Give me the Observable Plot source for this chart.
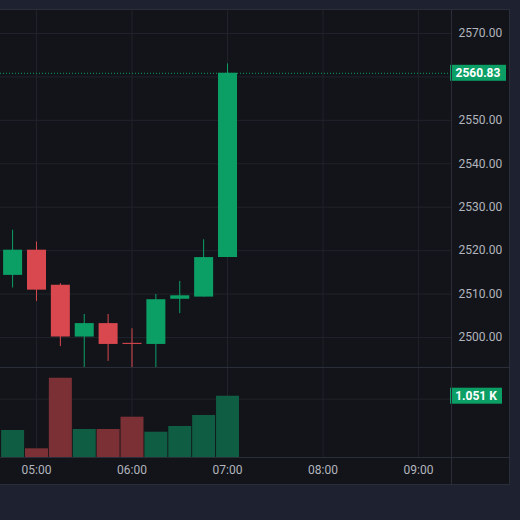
<!DOCTYPE html>
<html><head><meta charset="utf-8">
<script src="https://cdn.jsdelivr.net/npm/d3@7"></script>
<script src="https://cdn.jsdelivr.net/npm/@observablehq/plot@0.6"></script>
<style>
html,body{margin:0;padding:0;background:#1e2130;}
#root{position:relative;width:520px;height:520px;overflow:hidden;background:#1e2130;font-family:Roboto,"Noto Sans",sans-serif;}
#frame{position:absolute;left:-1px;top:9px;width:511px;height:476px;border:1px solid #2a2e39;background:#131419;box-sizing:border-box;}
.pane{position:absolute;left:0;}
.sep{position:absolute;background:#2a2e39;}
svg{background:transparent !important;}
</style>
</head><body>
<div id="root">
  <div id="frame"></div>
  <div class="pane" id="price" style="top:10px"></div>
  <div class="pane" id="vol" style="top:367px"></div>
  <div class="sep" style="left:0;top:367px;width:509px;height:1px"></div>
  <div class="sep" style="left:0;top:457px;width:509px;height:1px"></div>
  <div class="sep" style="left:451px;top:10px;width:1px;height:474px"></div>
</div>
<script>
// ---- data ----
const times   = ["04:45","05:00","05:15","05:30","05:45","06:00","06:15","06:30","06:45","07:00"];
const opens   = [2514.3, 2520.1, 2512.0, 2500.1, 2503.2, 2498.65, 2498.4, 2508.8, 2509.3, 2518.4];
const closes  = [2520.1, 2510.9, 2500.1, 2503.2, 2498.4, 2498.4, 2508.7, 2509.6, 2518.4, 2560.83];
const highs   = [2524.7, 2522.0, 2512.4, 2505.3, 2505.3, 2502.0, 2509.9, 2512.9, 2522.5, 2563.0];
const lows    = [2511.4, 2508.3, 2497.9, 2492.5, 2494.5, 2492.5, 2492.5, 2505.5, 2509.3, 2518.4];
const volumes = [463, 149, 1360, 480, 480, 691, 434, 532, 720, 1051];
const priceGrid  = [2500, 2510, 2520, 2530, 2540, 2550, 2560, 2570];
const priceLabels = [2500, 2510, 2520, 2530, 2540, 2550, 2570]; // 2560.00 is hidden behind the last-price tag
const hourTicks  = ["05:00","06:00","07:00","08:00","09:00"];
const volGrid    = [1000];

const UP = "#0b9f66", DOWN = "#d9484f";
const VUP = "#0f5d42", VDOWN = "#7b3036";
const GRID = "#20232c", TEXT = "#b2b5be";

const toDate = s => { const [h,m] = s.split(":").map(Number); return new Date(Date.UTC(2024,0,1,h,m)); };
const candles = times.map((t,i) => ({t: toDate(t), open: opens[i], close: closes[i], high: highs[i], low: lows[i], vol: volumes[i], up: closes[i] >= opens[i]}));
const hours = hourTicks.map(toDate);
const xDomain = [new Date(Date.UTC(2024,0,1,4,37,24)), new Date(Date.UTC(2024,0,1,9,20,42))];
const last = candles[candles.length-1];

const style = {background:"transparent", color:TEXT, fontSize:"12px", fontFamily:"Roboto, 'Noto Sans', sans-serif", overflow:"visible"};

// ---- price pane ----
const price = Plot.plot({
  width: 509, height: 357,
  marginLeft: 0, marginRight: 58, marginTop: 0, marginBottom: 0,
  style,
  x: {type:"utc", domain: xDomain, axis: null},
  y: {domain:[2493.09, 2575.29], axis:"right", ticks: priceLabels, tickFormat: d => d.toFixed(2), tickSize: 0, tickPadding: 7, label: null},
  marks: [
    Plot.ruleY(priceGrid, {stroke: GRID, strokeWidth: 1}),
    Plot.ruleX(hours, {stroke: GRID, strokeWidth: 1}),
    Plot.ruleX(candles, {x:"t", y1:"low", y2:"high", stroke: d => d.up ? UP : DOWN, strokeWidth: 1, clip: true}),
    Plot.ruleX(candles, {x:"t", y1:"open", y2:"close", stroke: d => d.up ? UP : DOWN, strokeWidth: 19, clip: true}),
    Plot.ruleY([last.close], {stroke: UP, strokeDasharray: "1,2", strokeWidth: 1})
  ]
});
document.getElementById("price").appendChild(price);
{
  const yp = price.scale("y").apply(last.close);
  const g = d3.select(price).append("g");
  g.append("rect").attr("x", 450).attr("y", yp - 8).attr("width", 56).attr("height", 16).attr("fill", UP);
  g.append("text").attr("x", 478).attr("y", yp).attr("dy", "0.35em").attr("text-anchor", "middle")
    .attr("fill", "#ffffff").attr("font-weight", "bold").attr("font-size", 12).text(last.close.toFixed(2));
}

// ---- volume pane + time axis ----
const vol = Plot.plot({
  width: 509, height: 117,
  marginLeft: 0, marginRight: 58, marginTop: 0, marginBottom: 27,
  style,
  x: {type:"utc", domain: xDomain, ticks: hours, tickFormat: d3.utcFormat("%H:%M"), tickSize: 0, tickPadding: 8, label: null},
  y: {domain:[0, 1543], axis: null},
  marks: [
    Plot.ruleY(volGrid, {stroke: GRID, strokeWidth: 1}),
    Plot.ruleX(hours, {stroke: GRID, strokeWidth: 1}),
    Plot.ruleX(candles, {x:"t", y1: 0, y2:"vol", stroke: d => d.up ? VUP : VDOWN, strokeWidth: 23})
  ]
});
document.getElementById("vol").appendChild(vol);
{
  const yv = vol.scale("y").apply(last.vol);
  const g = d3.select(vol).append("g");
  g.append("rect").attr("x", 450).attr("y", yv - 8).attr("width", 52).attr("height", 16).attr("fill", UP);
  g.append("text").attr("x", 476).attr("y", yv).attr("dy", "0.35em").attr("text-anchor", "middle")
    .attr("fill", "#ffffff").attr("font-weight", "bold").attr("font-size", 12).text((last.vol/1000).toFixed(3) + " K");
}
</script>
</body></html>
